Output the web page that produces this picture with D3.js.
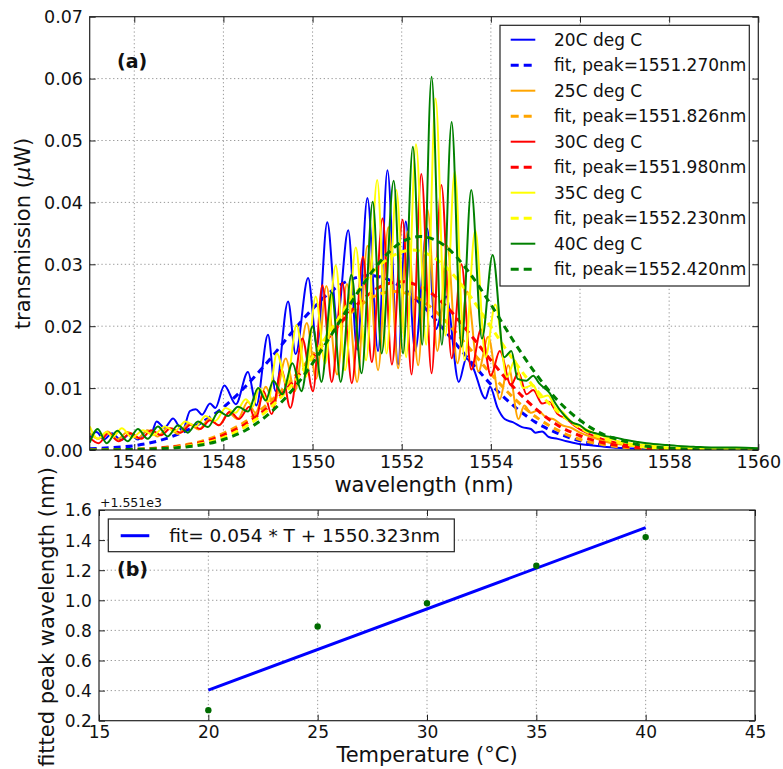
<!DOCTYPE html>
<html>
<head>
<meta charset="utf-8">
<script src="https://cdn.jsdelivr.net/npm/d3@7"></script>
<style>
  body { margin: 0; background: #fff; }
  svg { display: block; }
  text { font-family: "DejaVu Sans", "Noto Sans", sans-serif; fill: #111; }
</style>
</head>
<body>
<svg id="chart" width="783" height="769"></svg>
<script>
// ---------- data: transmission spectra (wavelength nm, power uW) ----------
const seriesNames = ["20C deg C", "25C deg C", "30C deg C", "35C deg C", "40C deg C"];
const temperatures = [20, 25, 30, 35, 40];
const fittedPeaks = [1551.270, 1551.826, 1551.980, 1552.230, 1552.420];

const spectrum20 = [[1545.00,0.0020],[1545.15,0.0029],[1545.32,0.0017],[1545.50,0.0027],[1545.70,0.0016],[1545.90,0.0026],[1546.08,0.0017],[1546.28,0.0031],[1546.38,0.0027],[1546.50,0.0046],[1546.68,0.0036],[1546.87,0.0051],[1547.08,0.0031],[1547.25,0.0063],[1547.38,0.0066],[1547.52,0.0057],[1547.70,0.0075],[1547.82,0.0068],[1548.02,0.0104],[1548.28,0.0074],[1548.55,0.0126],[1548.74,0.0072],[1549.00,0.0186],[1549.17,0.0095],[1549.45,0.0240],[1549.62,0.0155],[1549.90,0.0278],[1550.10,0.0168],[1550.33,0.0368],[1550.55,0.0210],[1550.80,0.0355],[1551.00,0.0162],[1551.23,0.0407],[1551.47,0.0160],[1551.68,0.0452],[1551.92,0.0138],[1552.09,0.0369],[1552.30,0.0160],[1552.57,0.0358],[1552.76,0.0195],[1553.00,0.0248],[1553.28,0.0110],[1553.45,0.0148],[1553.60,0.0133],[1553.88,0.0083],[1553.98,0.0102],[1554.15,0.0068],[1554.31,0.0050],[1554.49,0.0045],[1554.70,0.0037],[1554.90,0.0034],[1555.00,0.0028],[1555.15,0.0030],[1555.30,0.0021],[1555.50,0.0018],[1555.70,0.0014],[1555.95,0.0010],[1556.20,0.0008],[1556.60,0.0005],[1557.00,0.0003],[1557.50,0.0002],[1558.00,0.0001],[1559.00,0.0001],[1560.00,0.0001]];

const spectrum25 = [[1545.00,0.0027],[1545.20,0.0018],[1545.40,0.0030],[1545.62,0.0017],[1545.85,0.0029],[1546.08,0.0019],[1546.30,0.0032],[1546.52,0.0022],[1546.75,0.0036],[1546.98,0.0026],[1547.22,0.0042],[1547.45,0.0033],[1547.68,0.0050],[1547.90,0.0040],[1548.12,0.0060],[1548.32,0.0050],[1548.55,0.0078],[1548.72,0.0060],[1548.95,0.0102],[1549.13,0.0075],[1549.40,0.0148],[1549.60,0.0095],[1549.87,0.0205],[1550.08,0.0115],[1550.31,0.0265],[1550.55,0.0122],[1550.77,0.0268],[1551.00,0.0110],[1551.23,0.0330],[1551.47,0.0129],[1551.70,0.0360],[1551.92,0.0132],[1552.13,0.0353],[1552.37,0.0137],[1552.58,0.0388],[1552.80,0.0160],[1553.02,0.0330],[1553.25,0.0140],[1553.47,0.0256],[1553.72,0.0127],[1553.94,0.0183],[1554.20,0.0082],[1554.39,0.0137],[1554.62,0.0050],[1554.75,0.0072],[1554.90,0.0060],[1555.05,0.0064],[1555.25,0.0052],[1555.40,0.0050],[1555.60,0.0040],[1555.80,0.0036],[1556.00,0.0028],[1556.30,0.0020],[1556.60,0.0013],[1557.00,0.0008],[1557.50,0.0004],[1558.00,0.0002],[1559.00,0.0001],[1560.00,0.0001]];

const spectrum30 = [[1545.00,0.0020],[1545.20,0.0011],[1545.42,0.0027],[1545.65,0.0014],[1545.92,0.0027],[1546.15,0.0018],[1546.38,0.0032],[1546.60,0.0024],[1546.82,0.0035],[1547.04,0.0028],[1547.27,0.0041],[1547.48,0.0034],[1547.70,0.0048],[1547.90,0.0040],[1548.15,0.0062],[1548.35,0.0050],[1548.58,0.0070],[1548.72,0.0048],[1548.90,0.0095],[1549.08,0.0058],[1549.30,0.0130],[1549.50,0.0068],[1549.77,0.0180],[1550.01,0.0095],[1550.22,0.0266],[1550.43,0.0110],[1550.67,0.0270],[1550.88,0.0108],[1551.13,0.0312],[1551.33,0.0142],[1551.57,0.0374],[1551.78,0.0138],[1552.02,0.0372],[1552.22,0.0122],[1552.44,0.0446],[1552.67,0.0124],[1552.89,0.0428],[1553.12,0.0148],[1553.34,0.0300],[1553.56,0.0130],[1553.78,0.0195],[1554.00,0.0120],[1554.20,0.0160],[1554.45,0.0105],[1554.62,0.0125],[1554.80,0.0090],[1554.95,0.0097],[1555.15,0.0075],[1555.30,0.0078],[1555.50,0.0058],[1555.70,0.0050],[1555.90,0.0038],[1556.20,0.0026],[1556.50,0.0018],[1556.80,0.0012],[1557.20,0.0007],[1557.70,0.0004],[1558.20,0.0002],[1559.00,0.0001],[1560.00,0.0001]];

const spectrum35 = [[1545.00,0.0038],[1545.18,0.0018],[1545.38,0.0029],[1545.52,0.0021],[1545.72,0.0035],[1545.95,0.0020],[1546.20,0.0032],[1546.42,0.0024],[1546.69,0.0038],[1546.90,0.0030],[1547.15,0.0046],[1547.38,0.0038],[1547.60,0.0055],[1547.82,0.0047],[1548.05,0.0068],[1548.27,0.0060],[1548.50,0.0082],[1548.66,0.0070],[1548.80,0.0100],[1549.00,0.0078],[1549.20,0.0156],[1549.42,0.0105],[1549.64,0.0202],[1549.85,0.0118],[1550.07,0.0248],[1550.28,0.0140],[1550.52,0.0298],[1550.73,0.0129],[1550.97,0.0327],[1551.20,0.0145],[1551.45,0.0436],[1551.66,0.0156],[1551.88,0.0420],[1552.10,0.0150],[1552.32,0.0494],[1552.55,0.0170],[1552.76,0.0568],[1552.98,0.0185],[1553.19,0.0450],[1553.41,0.0145],[1553.65,0.0355],[1553.88,0.0150],[1554.10,0.0235],[1554.36,0.0118],[1554.54,0.0145],[1554.72,0.0100],[1554.95,0.0105],[1555.10,0.0085],[1555.28,0.0088],[1555.45,0.0068],[1555.60,0.0062],[1555.80,0.0046],[1556.00,0.0038],[1556.30,0.0028],[1556.60,0.0020],[1557.00,0.0012],[1557.50,0.0008],[1558.00,0.0004],[1558.50,0.0003],[1559.00,0.0002],[1560.00,0.0002]];

const spectrum40 = [[1545.00,0.0012],[1545.18,0.0034],[1545.38,0.0011],[1545.62,0.0031],[1545.85,0.0014],[1546.08,0.0034],[1546.30,0.0018],[1546.53,0.0038],[1546.75,0.0022],[1546.98,0.0040],[1547.20,0.0028],[1547.43,0.0046],[1547.65,0.0037],[1547.90,0.0062],[1548.10,0.0055],[1548.33,0.0070],[1548.55,0.0062],[1548.78,0.0100],[1548.95,0.0080],[1549.12,0.0112],[1549.32,0.0090],[1549.55,0.0140],[1549.75,0.0095],[1550.00,0.0200],[1550.20,0.0110],[1550.43,0.0255],[1550.63,0.0110],[1550.87,0.0283],[1551.10,0.0124],[1551.35,0.0401],[1551.55,0.0156],[1551.82,0.0435],[1552.03,0.0156],[1552.25,0.0490],[1552.46,0.0170],[1552.67,0.0603],[1552.90,0.0170],[1553.12,0.0530],[1553.34,0.0167],[1553.56,0.0420],[1553.80,0.0180],[1554.04,0.0315],[1554.30,0.0150],[1554.46,0.0160],[1554.60,0.0115],[1554.80,0.0112],[1554.95,0.0120],[1555.08,0.0108],[1555.20,0.0100],[1555.32,0.0092],[1555.45,0.0075],[1555.60,0.0060],[1555.84,0.0044],[1556.00,0.0040],[1556.14,0.0032],[1556.40,0.0026],[1556.60,0.0022],[1556.80,0.0020],[1557.04,0.0016],[1557.30,0.0013],[1557.50,0.0011],[1557.95,0.0008],[1558.30,0.0006],[1558.60,0.0005],[1559.00,0.0004],[1559.50,0.0004],[1560.00,0.0003]];

// fitted envelopes (dashed)
const fit20 = [[1545.0,0.0002],[1545.5,0.0004],[1546.0,0.0007],[1546.5,0.0014],[1547.0,0.0026],[1547.5,0.0044],[1548.0,0.0069],[1548.5,0.0103],[1549.0,0.0143],[1549.5,0.0187],[1550.0,0.0228],[1550.5,0.0261],[1551.0,0.0279],[1551.27,0.0282],[1551.5,0.0280],[1552.0,0.0263],[1552.5,0.0231],[1553.0,0.0190],[1553.5,0.0147],[1554.0,0.0106],[1554.5,0.0072],[1555.0,0.0045],[1555.5,0.0027],[1556.0,0.0015],[1556.5,0.0008],[1557.0,0.0004],[1557.5,0.0002],[1558.0,0.0001],[1559.0,0.0000],[1560.0,0.0000]];
const fit25 = [[1545.0,0.0000],[1546.0,0.0001],[1546.5,0.0003],[1547.0,0.0007],[1547.5,0.0014],[1548.0,0.0027],[1548.5,0.0046],[1549.0,0.0075],[1549.5,0.0111],[1550.0,0.0153],[1550.5,0.0195],[1551.0,0.0230],[1551.5,0.0252],[1551.83,0.0256],[1552.0,0.0255],[1552.5,0.0239],[1553.0,0.0207],[1553.5,0.0166],[1554.0,0.0123],[1554.5,0.0085],[1555.0,0.0054],[1555.5,0.0032],[1556.0,0.0017],[1556.5,0.0009],[1557.0,0.0004],[1557.5,0.0002],[1558.0,0.0001],[1559.0,0.0000],[1560.0,0.0000]];
const fit30 = [[1545.0,0.0000],[1546.0,0.0001],[1546.5,0.0003],[1547.0,0.0006],[1547.5,0.0012],[1548.0,0.0024],[1548.5,0.0042],[1549.0,0.0069],[1549.5,0.0105],[1550.0,0.0149],[1550.5,0.0194],[1551.0,0.0235],[1551.5,0.0263],[1551.98,0.0272],[1552.5,0.0261],[1553.0,0.0232],[1553.5,0.0190],[1554.0,0.0145],[1554.5,0.0102],[1555.0,0.0067],[1555.5,0.0040],[1556.0,0.0023],[1556.5,0.0012],[1557.0,0.0006],[1557.5,0.0003],[1558.0,0.0001],[1559.0,0.0000],[1560.0,0.0000]];
const fit35 = [[1545.0,0.0000],[1546.0,0.0001],[1546.5,0.0002],[1547.0,0.0005],[1547.5,0.0010],[1548.0,0.0020],[1548.5,0.0038],[1549.0,0.0065],[1549.5,0.0102],[1550.0,0.0150],[1550.5,0.0204],[1551.0,0.0256],[1551.5,0.0298],[1552.0,0.0320],[1552.23,0.0323],[1552.5,0.0319],[1553.0,0.0295],[1553.5,0.0252],[1554.0,0.0199],[1554.5,0.0146],[1555.0,0.0099],[1555.5,0.0062],[1556.0,0.0036],[1556.5,0.0019],[1557.0,0.0010],[1557.5,0.0004],[1558.0,0.0002],[1558.5,0.0001],[1559.0,0.0000],[1560.0,0.0000]];
const fit40 = [[1545.0,0.0000],[1546.0,0.0001],[1546.5,0.0002],[1547.0,0.0004],[1547.5,0.0008],[1548.0,0.0017],[1548.5,0.0032],[1549.0,0.0057],[1549.5,0.0093],[1550.0,0.0140],[1550.5,0.0195],[1551.0,0.0253],[1551.5,0.0303],[1552.0,0.0336],[1552.42,0.0345],[1553.0,0.0328],[1553.5,0.0288],[1554.0,0.0235],[1554.5,0.0177],[1555.0,0.0124],[1555.5,0.0080],[1556.0,0.0048],[1556.5,0.0026],[1557.0,0.0014],[1557.5,0.0006],[1558.0,0.0003],[1558.5,0.0001],[1559.0,0.0000],[1560.0,0.0000]];

// linear fit of peak wavelength vs temperature, as printed in the legend
const fitSlope = 0.054;
const fitIntercept = 1550.323;
const fitTempRange = [20, 40];

// tick values
const wlTicks = [1546, 1548, 1550, 1552, 1554, 1556, 1558, 1560];
const powerTicks = [0, 0.01, 0.02, 0.03, 0.04, 0.05, 0.06, 0.07];
const tempTicks = [15, 20, 25, 30, 35, 40, 45];
const offsetTicks = [0.2, 0.4, 0.6, 0.8, 1.0, 1.2, 1.4, 1.6];
const peakOffset = 1551;   // axis offset shown as "+1.551e3"

// ---------- styling ----------
const colors = ["#0000ff", "#ffa500", "#ff0000", "#ffff00", "#008000"];
const spectra = [spectrum20, spectrum25, spectrum30, spectrum35, spectrum40];
const fits = [fit20, fit25, fit30, fit35, fit40];

const svg = d3.select("#chart");

// dotted grid at the inner tick positions
function drawGrid(g, x, y, xTicks, yTicks) {
  const [x0, x1] = x.range();
  const [y0, y1] = y.range();
  const grid = g.append("g");
  grid.selectAll("line.gx").data(xTicks.filter(t => x(t) > x0 + 1 && x(t) < x1 - 1))
    .join("line").attr("class", "gx").attr("x1", d => x(d)).attr("x2", d => x(d)).attr("y1", y0).attr("y2", y1)
    .attr("stroke", "#999").attr("stroke-width", 1).attr("stroke-dasharray", "1.3,2.6");
  grid.selectAll("line.gy").data(yTicks.filter(t => y(t) < y0 - 1 && y(t) > y1 + 1))
    .join("line").attr("class", "gy").attr("y1", d => y(d)).attr("y2", d => y(d)).attr("x1", x0).attr("x2", x1)
    .attr("stroke", "#999").attr("stroke-width", 1).attr("stroke-dasharray", "1.3,2.6");
}

// boxed axes with inward ticks on all four sides
function drawAxes(g, x, y, xTicks, yTicks, xFmt, yFmt, fontSize, xPad, yPad) {
  const [x0, x1] = x.range();
  const [y0, y1] = y.range();
  const bottom = g.append("g").attr("transform", `translate(0,${y0})`)
    .call(d3.axisBottom(x).tickValues(xTicks).tickFormat(xFmt).tickSizeInner(-6).tickSizeOuter(0).tickPadding(xPad));
  const top = g.append("g").attr("transform", `translate(0,${y1})`)
    .call(d3.axisTop(x).tickValues(xTicks).tickFormat("").tickSizeInner(-6).tickSizeOuter(0));
  const left = g.append("g").attr("transform", `translate(${x0},0)`)
    .call(d3.axisLeft(y).tickValues(yTicks).tickFormat(yFmt).tickSizeInner(-6).tickSizeOuter(0).tickPadding(yPad));
  const right = g.append("g").attr("transform", `translate(${x1},0)`)
    .call(d3.axisRight(y).tickValues(yTicks).tickFormat("").tickSizeInner(-6).tickSizeOuter(0));
  [bottom, top, left, right].forEach(a => {
    a.select(".domain").remove();
    a.selectAll(".tick line").attr("stroke", "#222").attr("stroke-width", 1);
    a.selectAll(".tick text").attr("font-family", "DejaVu Sans").attr("font-size", fontSize).attr("fill", "#111");
  });
  left.selectAll(".tick text").attr("dy", "0.35em");
  g.append("rect").attr("x", x0).attr("y", y1).attr("width", x1 - x0).attr("height", y0 - y1)
    .attr("fill", "none").attr("stroke", "#222").attr("stroke-width", 1.2);
}

// ---------- panel (a): spectra ----------
const xA = d3.scaleLinear().domain([1545, 1560]).range([89.7, 758.3]);
const yA = d3.scaleLinear().domain([0, 0.07]).range([450, 16.7]);
const gA = svg.append("g");
drawGrid(gA, xA, yA, wlTicks, powerTicks);

svg.append("clipPath").attr("id", "clipA").append("rect")
  .attr("x", 89.7).attr("y", 16.7).attr("width", 758.3 - 89.7).attr("height", 450 - 16.7);

const lineA = d3.line().x(d => xA(d[0])).y(d => yA(d[1])).curve(d3.curveMonotoneX);
const plotA = gA.append("g").attr("clip-path", "url(#clipA)");
spectra.forEach((s, i) => {
  plotA.append("path").attr("d", lineA(s)).attr("fill", "none")
    .attr("stroke", colors[i]).attr("stroke-width", 2).attr("stroke-linejoin", "round");
  plotA.append("path").attr("d", lineA(fits[i])).attr("fill", "none")
    .attr("stroke", colors[i]).attr("stroke-width", 3).attr("stroke-dasharray", "7,5");
});

drawAxes(gA, xA, yA, wlTicks, powerTicks, d3.format("d"), d3.format(".2f"), 17.5, 5.5, 6.7);

// axis titles
svg.append("text").attr("x", 424).attr("y", 492).attr("text-anchor", "middle")
  .attr("font-size", 21).text("wavelength (nm)");
const tA = svg.append("text").attr("transform", "translate(30,233.5) rotate(-90)")
  .attr("text-anchor", "middle").attr("font-size", 21);
tA.append("tspan").text("transmission (");
tA.append("tspan").attr("font-style", "italic").text("\u03bc");
tA.append("tspan").text("W)");

svg.append("text").attr("x", 117).attr("y", 68).attr("font-family", "Liberation Sans, Arial, sans-serif")
  .attr("font-weight", "bold").attr("font-size", 19).text("(a)");

// legend (a)
const legA = svg.append("g");
legA.append("rect").attr("x", 500).attr("y", 25.3).attr("width", 249.3).attr("height", 260.7)
  .attr("fill", "#fff").attr("stroke", "#222").attr("stroke-width", 1.2);
const legendRows = [];
seriesNames.forEach((name, i) => {
  legendRows.push({ label: name, color: colors[i], dashed: false });
  legendRows.push({ label: `fit, peak=${fittedPeaks[i].toFixed(3)}nm`, color: colors[i], dashed: true });
});
legendRows.forEach((r, k) => {
  const yy = 39.7 + k * 25.5;
  legA.append("line").attr("x1", 510.7).attr("x2", 535.3).attr("y1", yy).attr("y2", yy)
    .attr("stroke", r.color).attr("stroke-width", r.dashed ? 3 : 2)
    .attr("stroke-dasharray", r.dashed ? "8,5" : null);
  legA.append("text").attr("x", 554).attr("y", yy).attr("dy", "0.35em")
    .attr("font-size", 17).text(r.label);
});

// ---------- panel (b): fitted peak vs temperature ----------
const xB = d3.scaleLinear().domain([15, 45]).range([99, 755]);
const yB = d3.scaleLinear().domain([0.2, 1.6]).range([720.7, 510]);
const gB = svg.append("g");
drawGrid(gB, xB, yB, tempTicks, offsetTicks);

const fitLine = fitTempRange.map(t => [t, fitSlope * t + fitIntercept - peakOffset]);
gB.append("path").attr("d", d3.line().x(d => xB(d[0])).y(d => yB(d[1]))(fitLine))
  .attr("fill", "none").attr("stroke", "#0000ff").attr("stroke-width", 3);

gB.selectAll("circle.pt").data(temperatures.map((t, i) => [t, fittedPeaks[i] - peakOffset]))
  .join("circle").attr("class", "pt").attr("cx", d => xB(d[0])).attr("cy", d => yB(d[1])).attr("r", 3.2)
  .attr("fill", "#006b00");

drawAxes(gB, xB, yB, tempTicks, offsetTicks, d3.format("d"), d3.format(".1f"), 17, 5.2, 7.3);

svg.append("text").attr("x", 100).attr("y", 506.5).attr("font-size", 12.5).text("+1.551e3");
svg.append("text").attr("x", 427).attr("y", 762).attr("text-anchor", "middle")
  .attr("font-size", 21).text("Temperature (\u00b0C)");
svg.append("text").attr("transform", "translate(54,617) rotate(-90)")
  .attr("text-anchor", "middle").attr("font-size", 21).text("fitted peak wavelength (nm)");

svg.append("text").attr("x", 117).attr("y", 576).attr("font-family", "Liberation Sans, Arial, sans-serif")
  .attr("font-weight", "bold").attr("font-size", 19).text("(b)");

// legend (b)
const legB = svg.append("g");
legB.append("rect").attr("x", 108.3).attr("y", 519).attr("width", 346).attr("height", 32.7)
  .attr("fill", "#fff").attr("stroke", "#222").attr("stroke-width", 1.2);
legB.append("line").attr("x1", 120.7).attr("x2", 149.3).attr("y1", 535.7).attr("y2", 535.7)
  .attr("stroke", "#0000ff").attr("stroke-width", 3);
legB.append("text").attr("x", 169.3).attr("y", 535.7).attr("dy", "0.35em").attr("font-size", 18.5)
  .text(`fit= ${fitSlope} * T + ${fitIntercept}nm`);
</script>
</body>
</html>
